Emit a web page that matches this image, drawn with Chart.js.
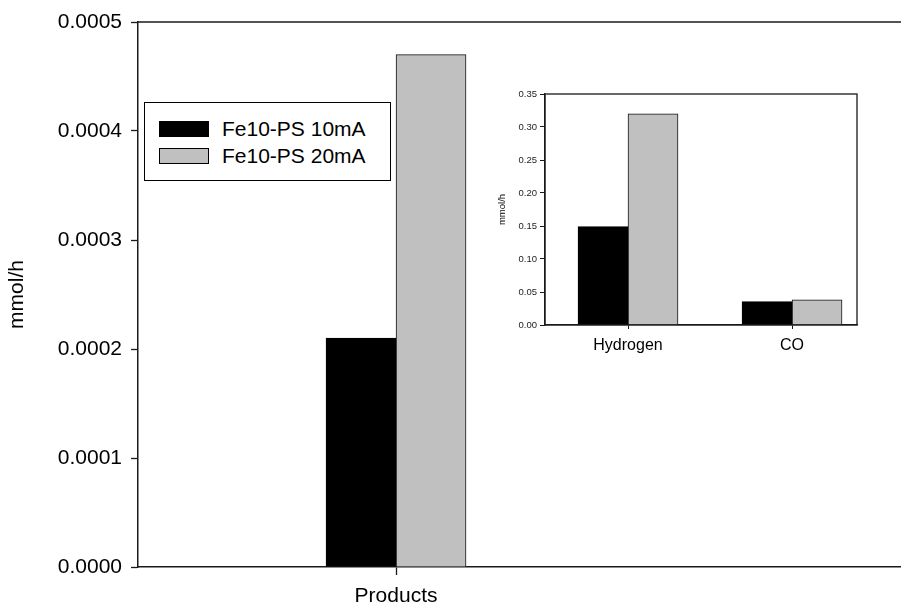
<!DOCTYPE html>
<html>
<head>
<meta charset="utf-8">
<script src="https://cdn.jsdelivr.net/npm/chart.js@4/dist/chart.umd.min.js"></script>
<style>
  html, body { margin: 0; padding: 0; background: #fff; }
  #wrap { position: relative; width: 901px; height: 605px; overflow: hidden; font-family: "Liberation Sans", Arial, sans-serif; }
  #main { position: absolute; left: 0; top: 0; }
  #inset { position: absolute; left: 480px; top: 84px; }
  #legend { position: absolute; left: 144px; top: 102px; width: 245px; height: 77px; border: 1px solid #000; background: #fff; }
  .row { position: absolute; left: 0; height: 20px; display: flex; align-items: center; font-size: 21px; color: #000; white-space: nowrap; }
  .sw { position: absolute; left: 14px; width: 48px; height: 14px; border: 1px solid #000; }
  .lbl { position: absolute; left: 77px; line-height: 20px; }
</style>
</head>
<body>
<div id="wrap">
  <canvas id="main" width="901" height="605"></canvas>
  <canvas id="inset" width="390" height="276"></canvas>
  <div id="legend"></div>
</div>
<script>
// ---- data ----
const mainCategories = ['Products'];
const mainSeries10 = [0.00021];
const mainSeries20 = [0.00047];
const mainYTicks = [0, 0.0001, 0.0002, 0.0003, 0.0004, 0.0005];

const insetCategories = ['Hydrogen', 'CO'];
const insetSeries10 = [0.149, 0.0355];
const insetSeries20 = [0.320, 0.038];
const insetYTicks = [0, 0.05, 0.10, 0.15, 0.20, 0.25, 0.30, 0.35];

const seriesNames = ['Fe10-PS 10mA', 'Fe10-PS 20mA'];
const seriesColors = ['#000000', '#c0c0c0'];
const yTitle = 'mmol/h';

const FONT = '"Liberation Sans", Arial, sans-serif';
const AXIS = '#1a1a1a';

Chart.defaults.font.family = FONT;
Chart.defaults.color = '#000';

const topLine = {
  id: 'topLine',
  afterDraw(chart) {
    const a = chart.chartArea, ctx = chart.ctx;
    ctx.save();
    ctx.strokeStyle = AXIS;
    ctx.lineWidth = 1.5;
    ctx.beginPath();
    ctx.moveTo(a.left, a.top);
    ctx.lineTo(chart.width, a.top);
    ctx.stroke();
    ctx.restore();
  }
};

const boxAround = {
  id: 'boxAround',
  afterDraw(chart) {
    const a = chart.chartArea, ctx = chart.ctx;
    ctx.save();
    ctx.strokeStyle = AXIS;
    ctx.lineWidth = 1.3;
    ctx.strokeRect(a.left, a.top, a.right - a.left, a.bottom - a.top);
    ctx.restore();
  }
};

// ---- main chart ----
new Chart(document.getElementById('main'), {
  type: 'bar',
  data: {
    datasets: [
      { label: seriesNames[0], data: mainCategories.map((c, i) => ({ x: i, y: mainSeries10[i] })),
        backgroundColor: seriesColors[0], borderColor: '#000', borderWidth: 1, barThickness: 70 },
      { label: seriesNames[1], data: mainCategories.map((c, i) => ({ x: i, y: mainSeries20[i] })),
        backgroundColor: seriesColors[1], borderColor: '#111', borderWidth: 1, barThickness: 70 }
    ]
  },
  options: {
    responsive: false,
    animation: false,
    devicePixelRatio: 1,
    layout: { padding: { top: 22, right: 0, left: 0, bottom: 0 } },
    plugins: { legend: { display: false }, tooltip: { enabled: false } },
    scales: {
      x: {
        type: 'linear',
        offset: false,
        min: -1, max: 1.957,
        afterBuildTicks: (s) => { s.ticks = mainCategories.map((c, i) => ({ value: i })); },
        afterFit: (s) => { s.height = 38; },
        ticks: { callback: (v) => mainCategories[v] ?? '', font: { size: 21 }, color: '#000', padding: 9, maxRotation: 0 },
        grid: { drawOnChartArea: false, offset: false, tickLength: 8, color: AXIS, tickWidth: 1.3 },
        border: { display: true, color: AXIS, width: 1.5 }
      },
      y: {
        min: 0, max: 0.0005,
        afterBuildTicks: (s) => { s.ticks = mainYTicks.map(v => ({ value: v })); },
        afterFit: (s) => { s.width = 138; },
        ticks: { callback: (v) => Number(v).toFixed(4), font: { size: 21 }, color: '#000', padding: 9 },
        grid: { drawOnChartArea: false, tickLength: 7, color: AXIS, tickWidth: 1.3 },
        border: { display: true, color: AXIS, width: 1.5 },
        title: { display: true, text: yTitle, font: { size: 21 }, color: '#000', padding: { top: 5, bottom: 0 } }
      }
    }
  },
  plugins: [topLine]
});

// ---- inset chart ----
new Chart(document.getElementById('inset'), {
  type: 'bar',
  data: {
    datasets: [
      { label: seriesNames[0], data: insetCategories.map((c, i) => ({ x: i, y: insetSeries10[i] })),
        backgroundColor: seriesColors[0], borderColor: '#000', borderWidth: 1, barThickness: 50 },
      { label: seriesNames[1], data: insetCategories.map((c, i) => ({ x: i, y: insetSeries20[i] })),
        backgroundColor: seriesColors[1], borderColor: '#111', borderWidth: 1, barThickness: 50 }
    ]
  },
  options: {
    responsive: false,
    animation: false,
    devicePixelRatio: 1,
    layout: { padding: { top: 10, right: 13, left: 0, bottom: 0 } },
    plugins: { legend: { display: false }, tooltip: { enabled: false } },
    scales: {
      x: {
        type: 'linear',
        offset: false,
        min: -0.506, max: 1.396,
        afterBuildTicks: (s) => { s.ticks = insetCategories.map((c, i) => ({ value: i })); },
        afterFit: (s) => { s.height = 35; },
        ticks: { callback: (v) => insetCategories[v] ?? '', font: { size: 16 }, color: '#000', padding: 7, maxRotation: 0 },
        grid: { drawOnChartArea: false, offset: false, tickLength: 4, color: AXIS },
        border: { display: true, color: AXIS, width: 1.3 }
      },
      y: {
        min: 0, max: 0.35,
        afterBuildTicks: (s) => { s.ticks = insetYTicks.map(v => ({ value: v })); },
        afterFit: (s) => { s.width = 65; },
        ticks: { callback: (v) => Number(v).toFixed(2), font: { size: 9.5 }, color: '#222', padding: 3 },
        grid: { drawOnChartArea: false, tickLength: 5, color: AXIS },
        border: { display: true, color: AXIS, width: 1.3 },
        title: { display: true, text: yTitle, font: { size: 9.5 }, color: '#000', padding: { top: 17, bottom: 0 } }
      }
    }
  },
  plugins: [boxAround]
});

// ---- legend (HTML, built from series arrays) ----
const legend = document.getElementById('legend');
const rowTops = [16, 43];
seriesNames.forEach((name, i) => {
  const row = document.createElement('div');
  row.className = 'row';
  row.style.top = rowTops[i] + 'px';
  const sw = document.createElement('span');
  sw.className = 'sw';
  sw.style.background = seriesColors[i];
  sw.style.top = '2px';
  const lbl = document.createElement('span');
  lbl.className = 'lbl';
  lbl.textContent = name;
  row.appendChild(sw);
  row.appendChild(lbl);
  legend.appendChild(row);
});
</script>
</body>
</html>
